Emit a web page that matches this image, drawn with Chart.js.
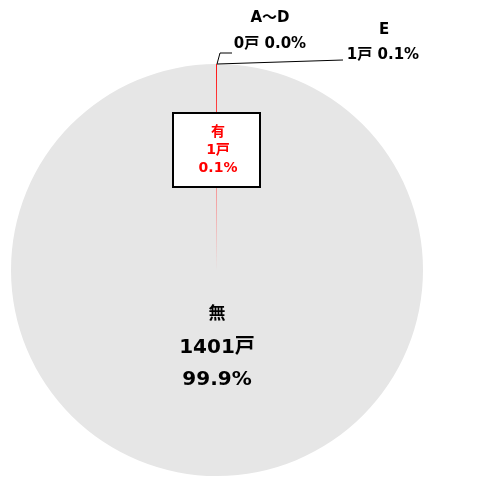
<!DOCTYPE html>
<html>
<head>
<meta charset="utf-8">
<script src="https://cdn.jsdelivr.net/npm/chart.js@4"></script>
<style>
  html, body { margin: 0; padding: 0; background: #fff; }
</style>
</head>
<body>
<canvas id="pie" width="482" height="477"></canvas>
<script>
// main breakdown (無 drawn first so the thin 有 slice sits on top)
const categories = ['無', '有'];
const counts = [1401, 1];
const percents = ['99.9%', '0.1%'];
// breakdown of 有
const subCategories = ['A～D', 'E'];
const subCounts = [0, 1];
const subPercents = ['0.0%', '0.1%'];
const unit = '戸';

const FONT = '"DejaVu Sans", "Noto Sans CJK JP", sans-serif';

const labelPlugin = {
  id: 'labels',
  afterDraw(chart) {
    const ctx = chart.ctx;
    const arc = chart.getDatasetMeta(0).data[1];
    const cx = arc.x, cy = arc.y, r = arc.outerRadius;
    const ax = cx + r * Math.cos(arc.endAngle);
    const ay = cy + r * Math.sin(arc.endAngle);
    ctx.save();
    ctx.textAlign = 'center';
    ctx.textBaseline = 'middle';

    // leader lines to sub labels
    ctx.strokeStyle = '#000';
    ctx.lineWidth = 1;
    ctx.beginPath();
    ctx.moveTo(ax, ay);
    ctx.lineTo(ax + 3, ay - 11);
    ctx.lineTo(ax + 15, ay - 11);
    ctx.moveTo(ax, ay);
    ctx.lineTo(ax + 126, ay - 4);
    ctx.stroke();

    ctx.fillStyle = '#000';
    ctx.font = 'bold 15px ' + FONT;
    ctx.fillText(subCategories[0], ax + 53, ay - 46);
    ctx.fillText(subCounts[0] + unit + ' ' + subPercents[0], ax + 53, ay - 20);
    ctx.fillText(subCategories[1], ax + 167, ay - 34);
    ctx.fillText(subCounts[1] + unit + ' ' + subPercents[1], ax + 166, ay - 9);

    // boxed label for 有
    const bx = cx - 44, by = cy - 157, bw = 87, bh = 74;
    ctx.fillStyle = '#fff';
    ctx.fillRect(bx, by, bw, bh);
    ctx.lineWidth = 2;
    ctx.strokeRect(bx, by, bw, bh);
    ctx.fillStyle = '#ff0000';
    ctx.font = 'bold 14px ' + FONT;
    ctx.fillText(categories[1], cx + 1, cy - 138);
    ctx.fillText(counts[1] + unit, cx + 1, cy - 120);
    ctx.fillText(percents[1], cx + 1, cy - 102);

    // label for 無
    ctx.fillStyle = '#000';
    ctx.font = 'bold 17px ' + FONT;
    ctx.fillText(categories[0], cx, cy + 45);
    ctx.font = 'bold 20px ' + FONT;
    ctx.fillText(counts[0] + unit, cx, cy + 78);
    ctx.fillText(percents[0], cx, cy + 110);
    ctx.restore();
  }
};

new Chart(document.getElementById('pie').getContext('2d'), {
  type: 'pie',
  data: {
    labels: categories,
    datasets: [{
      data: counts,
      backgroundColor: ['#e6e6e6', '#ff0000'],
      borderWidth: 0,
      hoverOffset: 0
    }]
  },
  options: {
    responsive: false,
    animation: false,
    layout: { padding: { left: 11, right: 59, top: 64, bottom: 1 } },
    plugins: { legend: { display: false }, tooltip: { enabled: false } }
  },
  plugins: [labelPlugin]
});
</script>
</body>
</html>
